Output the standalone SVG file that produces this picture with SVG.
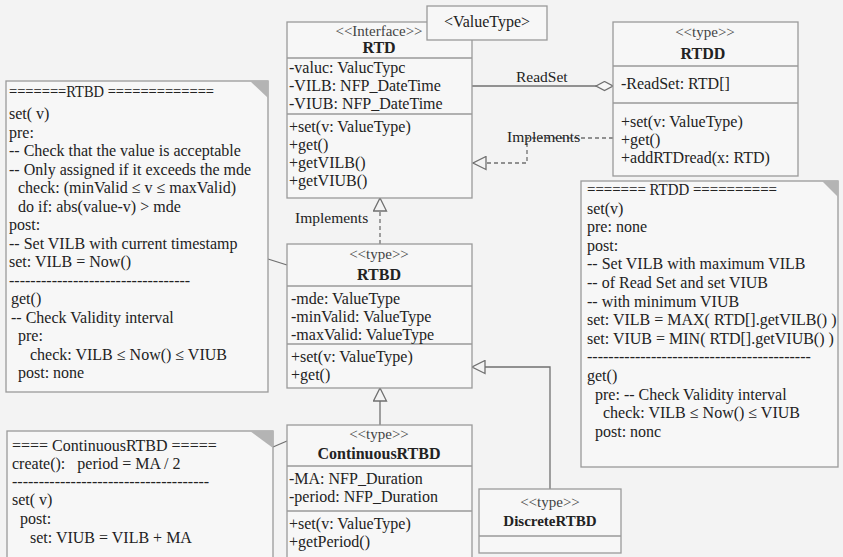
<svg xmlns="http://www.w3.org/2000/svg" width="843" height="557" viewBox="0 0 843 557">
<style>
text{font-family:"Liberation Serif","Times New Roman",serif;fill:#222;font-size:16px}
.box{fill:#f7f7f7;stroke:#9a9a9a;stroke-width:1.3}
.div{stroke:#9a9a9a;stroke-width:1.3}
.st{font-size:15px;text-anchor:middle;fill:#444}
.nm{font-weight:bold;text-anchor:middle}
.ear{fill:#b4b4b4;stroke:none}
.ln{fill:none;stroke:#707070;stroke-width:1.3}
.dash{stroke-dasharray:4 3}
.lbl{font-size:15.5px}
</style>
<defs>
<marker id="tri" markerUnits="userSpaceOnUse" viewBox="0 0 15 15" markerWidth="15" markerHeight="15" refX="14" refY="7.5" orient="auto">
<path d="M1,1 L14,7.5 L1,14 Z" fill="#f3f3f3" stroke="#707070" stroke-width="1.3" stroke-dasharray="none"/>
</marker>
<marker id="dia" markerUnits="userSpaceOnUse" viewBox="0 0 19 11" markerWidth="19" markerHeight="11" refX="18" refY="5.5" orient="auto">
<path d="M1,5.5 L9.5,1 L18,5.5 L9.5,10 Z" fill="#f7f7f7" stroke="#707070" stroke-width="1.3"/>
</marker>
</defs>
<rect x="0" y="0" width="843" height="557" fill="#f3f3f3"/>

<g id="connectors">
<path class="ln" d="M472,86 L613,86" marker-end="url(#dia)"/>
<path class="ln dash" d="M613,138 L527,138 L527,163 L473,163" marker-end="url(#tri)"/>
<path class="ln dash" d="M380,244 L380,198" marker-end="url(#tri)"/>
<path class="ln" d="M380,425 L380,388" marker-end="url(#tri)"/>
<path class="ln" d="M550,489 L550,367 L472,367" marker-end="url(#tri)"/>
<path class="ln" d="M268,259 L287,265"/>
<path class="ln" d="M273,447 L287,441"/>
<text class="lbl" x="516" y="82">ReadSet</text>
<text class="lbl" x="507" y="142">Implements</text>
<text class="lbl" x="295" y="223">Implements</text>
</g>

<g id="RTD">
<rect class="box" x="287" y="22" width="185" height="176"/>
<line class="div" x1="287" y1="58" x2="472" y2="58"/>
<line class="div" x1="287" y1="114" x2="472" y2="114"/>
<text class="st" x="379" y="36">&lt;&lt;Interface&gt;&gt;</text>
<text class="nm" x="379" y="53">RTD</text>
<text x="289" y="73">-valuc: ValucTypc</text>
<text x="289" y="91">-VILB: NFP_DateTime</text>
<text x="289" y="109">-VIUB: NFP_DateTime</text>
<text x="289" y="132">+set(v: ValueType)</text>
<text x="289" y="150">+get()</text>
<text x="289" y="168">+getVILB()</text>
<text x="289" y="186">+getVIUB()</text>
</g>

<g id="ValueType">
<rect class="box" x="427" y="6" width="120" height="34"/>
<text x="487" y="27" text-anchor="middle">&lt;ValueType&gt;</text>
</g>

<g id="RTDD">
<rect class="box" x="613" y="22" width="185" height="154"/>
<line class="div" x1="613" y1="66" x2="798" y2="66"/>
<line class="div" x1="613" y1="103" x2="798" y2="103"/>
<text class="st" x="705" y="37">&lt;&lt;type&gt;&gt;</text>
<text class="nm" x="703" y="59">RTDD</text>
<text x="621" y="89">-ReadSet: RTD[]</text>
<text x="621" y="127">+set(v: ValueType)</text>
<text x="621" y="145">+get()</text>
<text x="621" y="163">+addRTDread(x: RTD)</text>
</g>

<g id="RTBD">
<rect class="box" x="287" y="244" width="185" height="144"/>
<line class="div" x1="287" y1="286" x2="472" y2="286"/>
<line class="div" x1="287" y1="344" x2="472" y2="344"/>
<text class="st" x="379" y="259">&lt;&lt;type&gt;&gt;</text>
<text class="nm" x="379" y="280">RTBD</text>
<text x="291" y="304">-mde: ValueType</text>
<text x="291" y="322">-minValid: ValueType</text>
<text x="291" y="340">-maxValid: ValueType</text>
<text x="291" y="362">+set(v: ValueType)</text>
<text x="291" y="380">+get()</text>
</g>

<g id="ContinuousRTBD">
<rect class="box" x="287" y="425" width="185" height="140"/>
<line class="div" x1="287" y1="466" x2="472" y2="466"/>
<line class="div" x1="287" y1="511" x2="472" y2="511"/>
<text class="st" x="379" y="439">&lt;&lt;type&gt;&gt;</text>
<text class="nm" x="379" y="459">ContinuousRTBD</text>
<text x="289" y="484">-MA: NFP_Duration</text>
<text x="289" y="502">-period: NFP_Duration</text>
<text x="289" y="529">+set(v: ValueType)</text>
<text x="289" y="547">+getPeriod()</text>
</g>

<g id="DiscreteRTBD">
<rect class="box" x="479" y="489" width="142" height="64"/>
<line class="div" x1="479" y1="536" x2="621" y2="536"/>
<text class="st" x="550" y="507">&lt;&lt;type&gt;&gt;</text>
<text class="nm" x="550" y="526" style="font-size:15px">DiscreteRTBD</text>
</g>

<g id="noteRTBD">
<rect class="box" x="6" y="81" width="262" height="311"/>
<path class="ear" d="M250,81 L268,81 L268,98 Z"/>
<text x="9" y="97" textLength="205" lengthAdjust="spacingAndGlyphs">=======RTBD =============</text>
<text x="9" y="119">set( v)</text>
<text x="9" y="137.5">pre:</text>
<text x="9" y="156">-- Check that the value is acceptable</text>
<text x="9" y="174.5">-- Only assigned if it exceeds the mde</text>
<text x="18" y="193">check: (minValid ≤ v ≤ maxValid)</text>
<text x="18" y="211.5">do if: abs(value-v) &gt; mde</text>
<text x="9" y="230">post:</text>
<text x="9" y="248.5">-- Set VILB with current timestamp</text>
<text x="9" y="267">set: VILB = Now()</text>
<text x="9" y="285.5">----------------------------------</text>
<text x="11" y="304">get()</text>
<text x="11" y="322.5">-- Check Validity interval</text>
<text x="18" y="341">pre:</text>
<text x="30" y="359.5">check: VILB ≤ Now() ≤ VIUB</text>
<text x="18" y="378">post: none</text>
</g>

<g id="noteRTDD">
<rect class="box" x="581" y="181" width="257" height="286"/>
<path class="ear" d="M822,181 L838,181 L838,197 Z"/>
<text x="587" y="195" textLength="190" lengthAdjust="spacingAndGlyphs">======= RTDD ==========</text>
<text x="587" y="213.6">set(v)</text>
<text x="587" y="232.2">pre: none</text>
<text x="587" y="250.8">post:</text>
<text x="587" y="269.4">-- Set VILB with maximum VILB</text>
<text x="587" y="288">-- of Read Set and set VIUB</text>
<text x="587" y="306.6">-- with minimum VIUB</text>
<text x="587" y="325.2">set: VILB = MAX( RTD[].getVILB() )</text>
<text x="587" y="343.8">set: VIUB = MIN( RTD[].getVIUB() )</text>
<text x="587" y="362.4">------------------------------------------</text>
<text x="587" y="381">get()</text>
<text x="595" y="399.6">pre: -- Check Validity interval</text>
<text x="603" y="418.2">check: VILB ≤ Now() ≤ VIUB</text>
<text x="595" y="436.8">post: nonc</text>
</g>

<g id="noteContinuousRTBD">
<rect class="box" x="7" y="431" width="266" height="135"/>
<path class="ear" d="M250,431 L273,431 L273,448 Z"/>
<text x="12" y="451">==== ContinuousRTBD =====</text>
<text x="12" y="469" xml:space="preserve">create():   period = MA / 2</text>
<text x="12" y="487">-------------------------------------</text>
<text x="12" y="505">set( v)</text>
<text x="20" y="524">post:</text>
<text x="30" y="543">set: VIUB = VILB + MA</text>
</g>
</svg>
